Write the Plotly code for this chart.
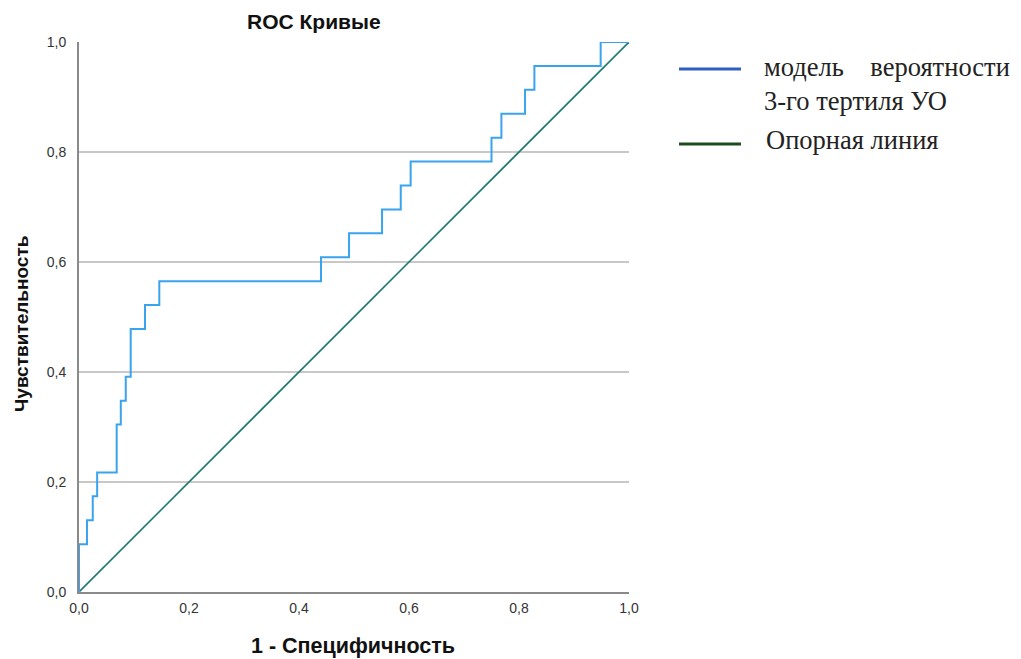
import plotly.graph_objects as go

# ROC curve data (1 - specificity, sensitivity)
fpr = [0.0, 0.0145, 0.025, 0.033, 0.0685, 0.076, 0.085, 0.094, 0.12, 0.146,
       0.44, 0.491, 0.551, 0.585, 0.603, 0.75, 0.768, 0.811, 0.828, 0.9485, 1.0]
tpr_counts = [0, 2, 3, 4, 5, 7, 8, 9, 11, 12, 13, 14, 15, 16, 17, 18, 19, 20, 21, 22, 23]
n_pos = 23
tpr = [c / n_pos for c in tpr_counts]

ref_x = [0.0, 1.0]
ref_y = [0.0, 1.0]

tick_vals = [0.0, 0.2, 0.4, 0.6, 0.8, 1.0]
tick_text = ["0,0", "0,2", "0,4", "0,6", "0,8", "1,0"]

legend_labels = ["модель\u00a0\u00a0\u00a0\u00a0вероятности<br>3-го тертиля УО", "Опорная линия"]

SANS = "Liberation Sans, Arial, sans-serif"
SERIF = "Liberation Serif, Times New Roman, serif"

fig = go.Figure()
fig.add_trace(go.Scatter(x=ref_x, y=ref_y, mode="lines",
                         line=dict(color="#1f7a72", width=1.6),
                         showlegend=False, hoverinfo="skip"))
fig.add_trace(go.Scatter(x=fpr, y=tpr, mode="lines", line_shape="vh",
                         line=dict(color="#3aa3ee", width=2),
                         showlegend=False))

OFF = 8  # page body margin
W, H = 1021 - OFF, 659 - OFF
PL, PR, PT, PB = 79, 629, 42, 592  # plot area in page pixels
L, T = PL - OFF, PT - OFF
R = W - (PR - OFF)
B = H - (PB - OFF)

fig.update_layout(
    width=W, height=H,
    margin=dict(l=L, r=R, t=T, b=B),
    plot_bgcolor="white", paper_bgcolor="white",
    showlegend=False,
    xaxis=dict(range=[0, 1], tickvals=tick_vals, ticktext=tick_text,
               showgrid=False, zeroline=False, showline=True,
               linecolor="#8a8a8a", linewidth=2, ticks="", ticklabelstandoff=2,
               tickfont=dict(family=SANS, size=14, color="#333333")),
    yaxis=dict(range=[0, 1], tickvals=tick_vals, ticktext=tick_text,
               showgrid=True, gridcolor="#c8c8c8", gridwidth=2,
               zeroline=False, showline=True, linecolor="#8a8a8a", linewidth=2,
               ticks="", ticklabelstandoff=8,
               tickfont=dict(family=SANS, size=14, color="#333333")),
)

# convert page pixel positions to paper coordinates (relative to plot area)
def px_x(p):
    return (p - PL) / (PR - PL)

def px_y(p):
    return (PB - p) / (PB - PT)

annotations = [
    dict(text="<b>ROC Кривые</b>", x=px_x(314), y=px_y(22), xref="paper", yref="paper",
         showarrow=False, font=dict(family=SANS, size=21, color="#111111"),
         xanchor="center", yanchor="middle"),
    dict(text="<b>1 - Специфичность</b>", x=px_x(353), y=px_y(646), xref="paper", yref="paper",
         showarrow=False, font=dict(family=SANS, size=21.5, color="#111111"),
         xanchor="center", yanchor="middle"),
    dict(text="<b>Чувствительность</b>", x=px_x(21), y=px_y(324), xref="paper", yref="paper",
         showarrow=False, textangle=-90, font=dict(family=SANS, size=19, color="#111111"),
         xanchor="center", yanchor="middle"),
    dict(text=legend_labels[0], x=px_x(762), y=px_y(84), xref="paper", yref="paper",
         showarrow=False, align="left", font=dict(family=SERIF, size=26.5, color="#222222"),
         xanchor="left", yanchor="middle"),
    dict(text=legend_labels[1], x=px_x(764), y=px_y(140), xref="paper", yref="paper",
         showarrow=False, align="left", font=dict(family=SERIF, size=26.5, color="#222222"),
         xanchor="left", yanchor="middle"),
]
fig.update_layout(annotations=annotations)

shapes = [
    dict(type="line", xref="paper", yref="paper", x0=px_x(679), x1=px_x(741),
         y0=px_y(69), y1=px_y(69), line=dict(color="#2e5fc0", width=3)),
    dict(type="line", xref="paper", yref="paper", x0=px_x(679), x1=px_x(741),
         y0=px_y(144), y1=px_y(144), line=dict(color="#1f4a1a", width=3)),
]
fig.update_layout(shapes=shapes)

fig.write_html("out.html")
